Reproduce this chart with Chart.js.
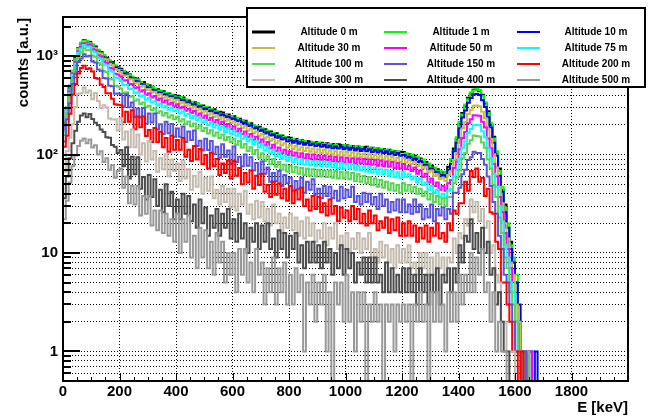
<!DOCTYPE html>
<html>
<head>
<meta charset="utf-8">
<title>Spectra vs altitude</title>
<script src="https://cdn.jsdelivr.net/npm/chart.js@4.4.1/dist/chart.umd.min.js"></script>
<style>
  body { margin: 0; background: #fff; }
  #wrap { width: 650px; height: 417px; }
</style>
</head>
<body>
<div id="wrap"><canvas id="spectrum" width="650" height="417"></canvas></div>
<script>
const FONT = '"Liberation Sans", Arial, Helvetica, sans-serif';

// histogram binning (keV)
const binLow = 0;
const binWidth = 10;

const altitudes = [
    'Altitude 0 m', 'Altitude 1 m', 'Altitude 10 m',
    'Altitude 30 m', 'Altitude 50 m', 'Altitude 75 m',
    'Altitude 100 m', 'Altitude 150 m', 'Altitude 200 m',
    'Altitude 300 m', 'Altitude 400 m', 'Altitude 500 m'
];
const colors = ['#000000', '#00ff00', '#0000ff', '#c6bf3e', '#ff00ff', '#00ffff',
                '#59d454', '#5954d8', '#ff0000', '#c4baae', '#4c4c4c', '#999999'];

// counts per 10 keV bin (one line = 200 keV)
const alt0 = [210, 290, 500, 690, 960, 1200, 1330, 1450, 1400, 1390, 1270, 1250, 1130, 1100, 990, 965, 880, 870, 785, 770,
    745, 690, 680, 655, 600, 598, 580, 538, 545, 497, 505, 490, 455, 462, 432, 440, 412, 418, 395, 402,
    395, 370, 380, 352, 355, 332, 340, 330, 310, 315, 293, 300, 280, 288, 265, 272, 268, 248, 255, 238,
    245, 228, 231, 214, 220, 203, 208, 200, 186, 192, 176, 181, 168, 172, 158, 165, 150, 156, 146, 150,
    148, 138, 144, 133, 140, 130, 137, 135, 127, 134, 125, 132, 123, 130, 121, 128, 119, 127, 125, 118,
    124, 116, 122, 115, 121, 113, 119, 120, 112, 117, 110, 115, 108, 114, 105, 112, 104, 109, 102, 107,
    106, 99, 101, 94, 97, 90, 91, 83, 84, 75, 77, 70, 71, 63, 66, 62, 75, 86, 115, 142,
    205, 265, 310, 378, 415, 455, 462, 440, 405, 330, 275, 200, 152, 102, 72, 44, 31, 18, 13, 8,
    5, 2, 1, 1, 0, 0, 0, 0, 0, 0];
const alt1 = [205, 305, 470, 715, 940, 1190, 1365, 1425, 1430, 1355, 1310, 1215, 1165, 1070, 1025, 940, 910, 840, 810, 752,
    722, 712, 662, 650, 622, 584, 575, 546, 522, 520, 484, 488, 470, 446, 448, 425, 425, 405, 408, 392,
    385, 384, 362, 364, 342, 345, 325, 330, 320, 302, 305, 288, 290, 274, 276, 262, 255, 258, 244, 246,
    234, 236, 222, 225, 209, 212, 198, 200, 194, 183, 185, 172, 175, 164, 166, 154, 158, 148, 151, 143,
    140, 145, 136, 141, 132, 138, 130, 129, 134, 127, 132, 125, 129, 123, 128, 121, 126, 120, 119, 124,
    117, 123, 116, 121, 115, 120, 113, 112, 118, 111, 116, 109, 114, 107, 112, 106, 110, 104, 108, 101,
    100, 103, 96, 100, 92, 95, 86, 89, 79, 81, 72, 74, 67, 68, 61, 67, 70, 90, 108, 150,
    215, 255, 322, 365, 428, 448, 468, 452, 395, 340, 265, 210, 146, 108, 68, 47, 29, 20, 12, 9,
    6, 2, 1, 0, 1, 0, 1, 0, 0, 0];
const alt10 = [190, 292, 455, 680, 905, 1140, 1290, 1385, 1355, 1330, 1240, 1195, 1100, 1050, 968, 925, 860, 830, 765, 740,
    708, 665, 650, 612, 598, 560, 553, 520, 515, 484, 481, 455, 452, 428, 428, 407, 409, 388, 392, 374,
    378, 357, 358, 338, 340, 321, 324, 305, 309, 290, 293, 276, 280, 263, 266, 250, 255, 239, 243, 228,
    233, 218, 222, 206, 210, 195, 199, 184, 188, 174, 179, 164, 170, 156, 161, 148, 154, 142, 147, 136,
    140, 132, 137, 129, 134, 126, 131, 124, 129, 122, 127, 120, 125, 118, 123, 116, 121, 115, 120, 113,
    118, 112, 117, 110, 116, 109, 114, 108, 113, 106, 111, 105, 110, 103, 108, 101, 106, 99, 104, 97,
    99, 93, 95, 88, 91, 84, 86, 78, 79, 71, 72, 66, 67, 60, 62, 59, 70, 80, 108, 132,
    185, 238, 280, 337, 375, 408, 412, 402, 356, 305, 240, 188, 132, 97, 61, 42, 26, 18, 11, 8,
    5, 3, 1, 1, 0, 1, 0, 1, 0, 0];
const alt30 = [185, 300, 450, 695, 905, 1160, 1280, 1390, 1340, 1345, 1225, 1200, 1080, 1050, 940, 925, 835, 820, 740, 725,
    690, 632, 636, 580, 583, 528, 538, 490, 500, 452, 465, 424, 436, 398, 410, 376, 390, 358, 373, 345,
    360, 330, 341, 312, 323, 296, 307, 281, 292, 268, 277, 254, 263, 241, 250, 229, 238, 219, 227, 209,
    216, 198, 205, 186, 194, 175, 183, 165, 172, 155, 162, 146, 152, 138, 144, 130, 137, 124, 130, 118,
    125, 114, 122, 111, 119, 109, 117, 107, 115, 105, 113, 104, 112, 102, 110, 100, 108, 99, 107, 98,
    106, 97, 105, 95, 103, 94, 102, 93, 101, 92, 99, 91, 98, 89, 96, 88, 95, 86, 93, 84,
    92, 83, 88, 80, 84, 76, 80, 72, 75, 66, 69, 61, 63, 56, 58, 54, 62, 68, 88, 104,
    142, 184, 213, 259, 286, 314, 316, 309, 272, 234, 183, 144, 101, 74, 47, 32, 20, 14, 8, 6,
    3, 2, 1, 0, 1, 0, 0, 0, 0, 0];
const alt50 = [180, 295, 440, 672, 875, 1125, 1245, 1350, 1300, 1310, 1175, 1150, 1020, 990, 875, 855, 762, 748, 662, 652,
    620, 565, 568, 518, 522, 472, 484, 438, 450, 405, 420, 380, 394, 356, 372, 338, 354, 322, 337, 310,
    325, 296, 307, 278, 290, 264, 277, 250, 262, 237, 249, 225, 237, 212, 225, 202, 215, 192, 204, 182,
    193, 172, 183, 162, 172, 151, 162, 141, 152, 132, 142, 124, 134, 116, 126, 109, 118, 103, 112, 99,
    108, 97, 105, 94, 103, 92, 101, 90, 100, 89, 98, 88, 97, 87, 96, 85, 95, 84, 94, 83,
    93, 83, 92, 81, 91, 81, 90, 80, 89, 79, 88, 77, 87, 76, 85, 75, 84, 73, 82, 72,
    80, 71, 77, 68, 74, 64, 69, 59, 64, 52, 57, 48, 52, 44, 48, 43, 51, 55, 73, 85,
    113, 147, 170, 208, 228, 251, 250, 248, 216, 188, 146, 116, 80, 60, 37, 26, 16, 11, 7, 4,
    2, 1, 1, 1, 0, 1, 0, 0, 0, 0];
const alt75 = [172, 282, 420, 645, 838, 1080, 1195, 1295, 1245, 1255, 1120, 1092, 965, 940, 825, 810, 715, 700, 605, 600,
    560, 508, 510, 464, 466, 420, 430, 390, 399, 360, 373, 338, 348, 316, 328, 300, 313, 285, 300, 275,
    289, 262, 275, 248, 260, 235, 248, 223, 236, 211, 223, 199, 212, 188, 201, 179, 192, 170, 183, 163,
    174, 155, 165, 145, 155, 136, 146, 127, 137, 118, 128, 110, 120, 103, 112, 96, 105, 90, 98, 86,
    94, 83, 91, 81, 89, 79, 88, 78, 86, 77, 85, 76, 85, 75, 83, 74, 82, 73, 82, 72,
    80, 72, 79, 70, 77, 69, 76, 67, 75, 66, 73, 64, 71, 63, 70, 61, 68, 59, 66, 58,
    67, 59, 64, 56, 60, 52, 57, 49, 52, 44, 48, 41, 44, 37, 40, 36, 43, 45, 60, 70,
    90, 117, 136, 166, 182, 201, 200, 198, 173, 150, 116, 92, 64, 47, 30, 21, 12, 9, 5, 4,
    2, 1, 1, 0, 0, 0, 0, 0, 0, 0];
const alt100 = [158, 262, 385, 598, 770, 998, 1098, 1200, 1150, 1160, 1015, 985, 850, 822, 705, 688, 590, 580, 500, 492,
    470, 422, 430, 386, 392, 352, 362, 326, 338, 302, 314, 282, 294, 264, 276, 250, 264, 238, 251, 228,
    242, 217, 229, 205, 217, 194, 207, 184, 197, 174, 186, 164, 177, 155, 168, 147, 160, 140, 151, 134,
    145, 126, 137, 118, 128, 109, 119, 101, 111, 93, 103, 86, 96, 80, 90, 75, 84, 70, 79, 67,
    77, 66, 75, 64, 73, 62, 72, 61, 71, 60, 70, 60, 69, 59, 69, 58, 68, 57, 67, 57,
    66, 56, 65, 54, 63, 53, 61, 51, 59, 49, 57, 47, 55, 46, 53, 44, 51, 43, 49, 41,
    51, 43, 49, 42, 47, 40, 45, 38, 42, 35, 40, 33, 38, 31, 36, 30, 37, 37, 51, 58,
    69, 91, 104, 129, 140, 156, 154, 153, 133, 117, 89, 72, 49, 37, 23, 16, 9, 7, 4, 3,
    2, 1, 0, 1, 1, 0, 0, 0, 0, 0];
const alt150 = [136, 228, 332, 522, 662, 872, 948, 1045, 990, 1010, 880, 862, 730, 712, 600, 592, 500, 494, 415, 418,
    409, 307, 410, 302, 339, 241, 293, 240, 298, 206, 262, 212, 262, 180, 203, 162, 215, 165, 204, 152,
    184, 152, 193, 134, 172, 141, 176, 122, 138, 110, 145, 111, 137, 101, 120, 93, 127, 95, 110, 81,
    121, 84, 95, 76, 100, 77, 94, 69, 82, 63, 85, 64, 74, 53, 65, 54, 68, 48, 62, 51,
    58, 43, 54, 45, 58, 41, 53, 44, 56, 39, 45, 36, 48, 38, 47, 36, 43, 34, 47, 36,
    44, 37, 47, 33, 38, 31, 41, 33, 40, 31, 37, 28, 40, 30, 35, 26, 33, 27, 35, 26,
    35, 26, 31, 25, 35, 26, 31, 22, 28, 23, 31, 21, 28, 24, 29, 22, 28, 25, 41, 41,
    46, 63, 70, 88, 94, 107, 104, 104, 90, 79, 60, 48, 33, 25, 15, 11, 6, 5, 3, 2,
    1, 1, 0, 1, 0, 0, 0, 0, 0, 0];
const alt200 = [120, 155, 260, 408, 520, 668, 760, 800, 740, 754, 700, 600, 590, 515, 487, 420, 420, 370, 325, 320,
    317, 214, 273, 216, 282, 181, 243, 189, 243, 154, 178, 134, 186, 134, 171, 119, 147, 107, 156, 112,
    141, 112, 147, 95, 112, 86, 122, 89, 114, 80, 99, 72, 105, 76, 90, 62, 81, 65, 87, 57,
    86, 61, 73, 50, 65, 52, 69, 45, 61, 49, 64, 42, 49, 37, 53, 39, 51, 36, 45, 34,
    48, 32, 44, 35, 46, 30, 35, 27, 38, 28, 37, 26, 32, 24, 35, 25, 30, 21, 29, 23,
    27, 21, 30, 22, 28, 20, 25, 19, 27, 20, 24, 17, 21, 18, 23, 16, 22, 17, 23, 15,
    20, 15, 21, 15, 19, 13, 18, 14, 19, 13, 18, 15, 20, 14, 16, 13, 20, 17, 27, 25,
    32, 32, 53, 43, 68, 59, 72, 53, 58, 38, 45, 26, 25, 13, 11, 5, 5, 3, 2, 1,
    1, 0, 1, 0, 0, 0, 0, 0, 0, 0];
const alt300 = [67, 108, 148, 203, 304, 414, 420, 479, 426, 447, 365, 423, 350, 298, 317, 301, 232, 227, 229, 176,
    235, 142, 172, 119, 180, 119, 160, 100, 130, 85, 137, 89, 109, 67, 92, 71, 101, 60, 89, 68,
    81, 54, 87, 57, 71, 44, 61, 47, 67, 40, 58, 43, 60, 36, 44, 31, 48, 33, 45, 29,
    45, 27, 40, 31, 43, 25, 31, 22, 34, 23, 33, 21, 28, 19, 31, 20, 25, 16, 23, 18,
    25, 17, 23, 15, 21, 14, 23, 15, 20, 13, 17, 14, 20, 12, 18, 14, 20, 11, 15, 11,
    16, 10, 14, 11, 16, 10, 14, 11, 16, 9, 11, 8, 13, 9, 12, 8, 11, 7, 12, 8,
    11, 8, 12, 7, 8, 6, 10, 7, 10, 6, 9, 6, 10, 7, 9, 6, 9, 8, 14, 10,
    16, 14, 22, 19, 35, 26, 33, 21, 28, 18, 21, 10, 12, 6, 5, 2, 2, 1, 1, 1,
    0, 0, 0, 0, 0, 0, 0, 0, 0, 0];
const alt400 = [36, 60, 92, 130, 175, 215, 250, 262, 240, 258, 230, 210, 198, 180, 170, 150, 148, 125, 120, 104,
    111, 76, 119, 57, 95, 63, 94, 45, 59, 35, 62, 37, 56, 30, 44, 26, 50, 30, 42, 22,
    35, 22, 40, 25, 38, 21, 31, 18, 35, 20, 29, 15, 24, 18, 28, 15, 25, 18, 28, 14,
    22, 13, 25, 14, 20, 10, 18, 13, 20, 11, 19, 13, 20, 11, 14, 9, 17, 11, 16, 9,
    15, 11, 16, 8, 12, 7, 13, 8, 13, 8, 12, 7, 13, 8, 11, 6, 10, 7, 12, 6,
    11, 7, 10, 5, 8, 6, 9, 5, 9, 5, 9, 5, 6, 4, 8, 4, 7, 4, 6, 4,
    7, 4, 7, 4, 6, 3, 7, 4, 6, 3, 6, 4, 7, 3, 6, 5, 7, 4, 7, 5,
    12, 8, 15, 13, 22, 11, 16, 10, 18, 10, 13, 6, 7, 3, 4, 2, 1, 1, 0, 0,
    0, 0, 0, 0, 0, 0, 0, 0, 0, 0];
const alt500 = [22, 34, 52, 76, 98, 122, 138, 146, 130, 142, 118, 124, 100, 108, 84, 92, 70, 78, 58, 68,
    72, 46, 60, 32, 48, 31, 48, 24, 38, 25, 38, 19, 27, 17, 27, 16, 25, 15, 22, 13,
    25, 10, 22, 13, 24, 9, 15, 7, 18, 9, 17, 7, 13, 6, 16, 8, 13, 5, 10, 6,
    10, 4, 11, 6, 11, 5, 8, 4, 11, 6, 8, 3, 7, 4, 9, 3, 7, 4, 8, 3,
    6, 3, 7, 4, 6, 1, 5, 3, 6, 2, 5, 3, 6, 1, 4, 0, 5, 3, 5, 2,
    6, 2, 4, 1, 4, 2, 4, 0, 3, 2, 4, 2, 3, 0, 3, 2, 3, 1, 3, 2,
    3, 2, 3, 0, 3, 2, 4, 2, 3, 0, 4, 2, 4, 2, 3, 1, 4, 2, 4, 2,
    6, 3, 6, 4, 10, 4, 9, 6, 11, 4, 5, 2, 4, 1, 2, 1, 1, 0, 0, 0,
    0, 0, 0, 0, 0, 0, 0, 0, 0, 0];

const seriesValues = [alt0, alt1, alt10, alt30, alt50, alt75,
                      alt100, alt150, alt200, alt300, alt400, alt500];

// axis ticks
const eMin = 0, eMax = 2000;
const eTicks = [0, 200, 400, 600, 800, 1000, 1200, 1400, 1600, 1800];
const countMin = 0.5, countMax = 2500;
const countTicks = [1, 10, 100, 1000];
const countTickLabels = ['1', '10', '10\u00b2', '10\u00b3'];

// empty bins sit below the axis on a log scale (as ROOT draws them)
const EMPTY = 0.1;

const xGrid = [];
for (let e = eMin; e <= eMax; e += 200) xGrid.push(e);
const yGrid = [];
[0.1, 1, 10, 100, 1000].forEach(d => {
    for (let m = 1; m <= 9; m++) {
        const v = d * m;
        if (v >= countMin && v <= countMax) yGrid.push(v);
    }
});

function toPoints(vals) {
    const pts = [{ x: binLow, y: EMPTY }];
    vals.forEach((v, k) => pts.push({ x: binLow + k * binWidth, y: v > 0 ? v : EMPTY }));
    const last = vals[vals.length - 1];
    pts.push({ x: binLow + vals.length * binWidth, y: last > 0 ? last : EMPTY });
    return pts;
}

const datasets = seriesValues.map((vals, i) => ({
    label: altitudes[i],
    data: toPoints(vals),
    borderColor: colors[i],
    backgroundColor: colors[i],
    borderWidth: 2,
    pointRadius: 0,
    stepped: true,
    fill: false,
    order: seriesValues.length - i
}));

const rootStyle = {
    id: 'rootStyle',
    afterDraw(chart) {
        const ctx = chart.ctx;
        const a = chart.chartArea;
        const xs = chart.scales.x;
        const ys = chart.scales.y;
        ctx.save();

        // tick marks inside the frame
        ctx.strokeStyle = '#000';
        ctx.lineWidth = 2;
        ctx.beginPath();
        yGrid.forEach(v => {
            const y = Math.round(ys.getPixelForValue(v));
            const len = countTicks.includes(v) ? 17 : 8;
            ctx.moveTo(a.left, y);
            ctx.lineTo(a.left + len, y);
        });
        ctx.stroke();
        ctx.lineWidth = 1;
        ctx.beginPath();
        for (let e = eMin; e <= eMax; e += 50) {
            const x = Math.round(xs.getPixelForValue(e)) + 0.5;
            const len = e % 200 === 0 ? 8 : 4;
            ctx.moveTo(x, a.bottom);
            ctx.lineTo(x, a.bottom - len);
        }
        ctx.stroke();

        // frame
        ctx.lineWidth = 2;
        ctx.strokeRect(a.left, a.top, a.right - a.left, a.bottom - a.top);

        // axis titles
        ctx.fillStyle = '#000';
        ctx.font = 'bold 15px ' + FONT;
        ctx.textAlign = 'right';
        ctx.textBaseline = 'alphabetic';
        ctx.fillText('E [keV]', a.right, 412);
        ctx.save();
        ctx.translate(28, a.top + 1);
        ctx.rotate(-Math.PI / 2);
        ctx.fillText('counts [a.u.]', 0, 0);
        ctx.restore();

        // legend box, 3 columns
        ctx.fillStyle = '#fff';
        ctx.fillRect(247, 8, 398, 79);
        ctx.strokeStyle = '#000';
        ctx.lineWidth = 2;
        ctx.strokeRect(247, 8, 398, 79);
        const lineX = [252, 384, 517];
        const textX = [329, 461, 596];
        const rowY = [32, 48, 64, 80];
        ctx.font = 'bold 10px ' + FONT;
        ctx.textAlign = 'center';
        ctx.textBaseline = 'middle';
        chart.data.datasets.forEach((ds, i) => {
            const col = i % 3, row = Math.floor(i / 3);
            ctx.strokeStyle = ds.borderColor;
            ctx.lineWidth = i === 0 ? 3 : 2;
            ctx.beginPath();
            ctx.moveTo(lineX[col], rowY[row]);
            ctx.lineTo(lineX[col] + 23, rowY[row]);
            ctx.stroke();
            ctx.fillStyle = '#000';
            ctx.fillText(ds.label, textX[col], rowY[row] + 0.5);
        });
        ctx.restore();
    }
};

const tickFont = { family: FONT, size: 15, weight: 'bold' };

new Chart(document.getElementById('spectrum'), {
    type: 'line',
    data: { datasets },
    options: {
        responsive: false,
        animation: false,
        events: [],
        layout: { padding: { left: 0, right: 22, top: 17, bottom: 0 } },
        plugins: { legend: { display: false }, tooltip: { enabled: false } },
        scales: {
            x: {
                type: 'linear',
                min: eMin,
                max: eMax,
                afterBuildTicks: s => { s.ticks = xGrid.map(v => ({ value: v })); },
                afterFit: s => { s.height = 36; },
                grid: { color: '#000', lineWidth: 1, drawTicks: false },
                border: { display: false, dash: [1, 2] },
                ticks: {
                    padding: 2,
                    autoSkip: false,
                    maxRotation: 0,
                    color: '#000',
                    font: tickFont,
                    callback: v => eTicks.includes(v) ? String(v) : ''
                }
            },
            y: {
                type: 'logarithmic',
                min: countMin,
                max: countMax,
                afterBuildTicks: s => { s.ticks = yGrid.map(v => ({ value: v })); },
                afterFit: s => { s.width = 63; },
                grid: { color: '#000', lineWidth: 1, drawTicks: false },
                border: { display: false, dash: [1, 2] },
                ticks: {
                    padding: 5,
                    autoSkip: false,
                    color: '#000',
                    font: tickFont,
                    callback: v => {
                        const k = countTicks.indexOf(v);
                        return k >= 0 ? countTickLabels[k] : '';
                    }
                }
            }
        }
    },
    plugins: [rootStyle]
});
</script>
</body>
</html>
